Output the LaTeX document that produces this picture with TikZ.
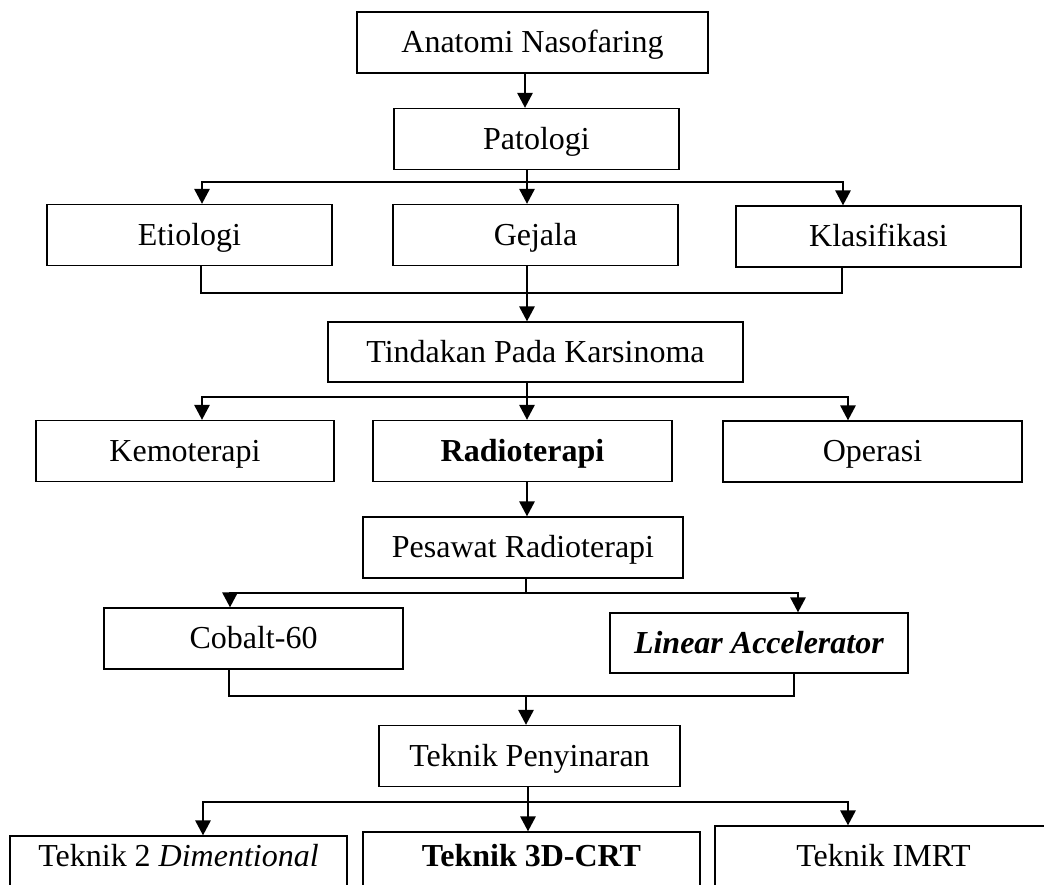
\documentclass[tikz,border=0pt]{standalone}
\usepackage{fontspec}
\setmainfont{Liberation Serif}
\usetikzlibrary{arrows.meta}

\begin{document}
\begin{tikzpicture}[x=0.5pt,y=-0.5pt,
  box/.style={draw,line width=0.6pt,minimum height=30.5pt,inner sep=2pt,text height=12pt,text depth=2pt,font=\fontsize{16}{19}\selectfont},
  openbox/.style={box,anchor=base,minimum height=0pt,inner ysep=0pt,text depth=40pt},
  link/.style={line width=1.4pt,line cap=rect},
  arr/.style={link,-{Triangle[width=7.5pt,length=7.5pt]}}]
\useasboundingbox (0,0) rectangle (1044,884);
\clip (0,0) rectangle (1044,884);

\node [box,minimum width=175.5pt] (anat) at (532.5,42.5) {Anatomi Nasofaring};
\node [box,minimum width=142.5pt] (pat) at (536.5,139) {Patologi};
\node [box,minimum width=142.5pt] (eti) at (189.5,235) {Etiologi};
\node [box,minimum width=142.5pt] (gej) at (535.5,235) {Gejala};
\node [box,minimum width=142.5pt] (kla) at (878.5,236.5) {Klasifikasi};
\node [box,minimum width=207.5pt,minimum height=30pt] (tin) at (535.5,352) {Tindakan Pada Karsinoma};
\node [box,minimum width=149pt] (kem) at (185,451) {Kemoterapi};
\node [box,minimum width=149.5pt] (rad) at (522.5,451) {\textbf{Radioterapi}};
\node [box,minimum width=149.5pt] (ope) at (872.5,451.5) {Operasi};
\node [box,minimum width=160pt] (pes) at (523,547.5) {Pesawat Radioterapi};
\node [box,minimum width=149.5pt] (cob) at (253.5,638.5) {Cobalt-60};
\node [box,minimum width=149pt,minimum height=30pt] (lin) at (759,643) {\textbf{\textit{Linear Accelerator}}};
\node [box,minimum width=150.5pt] (tek) at (529.5,756) {Teknik Penyinaran};
\node [openbox,minimum width=168.5pt,text height=15pt] (t2d) at (178.5,866) {Teknik 2 \textit{Dimentional}};
\node [openbox,minimum width=168.5pt,text height=17pt] (t3d) at (531.5,866) {\textbf{Teknik 3D-CRT}};
\node [openbox,minimum width=168.5pt,text height=20pt] (timrt) at (883.5,866) {Teknik IMRT};

\coordinate (a0) at (525,90);
\coordinate (s1l) at (202,182);
\coordinate (s1m) at (527,182);
\coordinate (s1r) at (843,182);
\coordinate (c1l) at (201,293);
\coordinate (c1m) at (527,293);
\coordinate (c1r) at (842,293);
\coordinate (s2l) at (202,397);
\coordinate (s2m) at (527,397);
\coordinate (s2r) at (848,397);
\coordinate (s3l) at (230,593);
\coordinate (s3m) at (526,593);
\coordinate (s3r) at (798,593);
\coordinate (c2l) at (229,696);
\coordinate (c2m) at (526,696);
\coordinate (c2r) at (794,696);
\coordinate (s4l) at (203,802);
\coordinate (s4m) at (528,802);
\coordinate (s4r) at (848,802);

\draw[arr] (anat.south -| a0) -- (pat.north -| a0);

\draw[link] (pat.south -| s1m) -- (s1m);
\draw[link] (s1l) -- (s1r);
\draw[arr] (s1l) -- (s1l |- eti.north);
\draw[arr] (s1m) -- (s1m |- gej.north);
\draw[arr] (s1r) -- (s1r |- kla.north);

\draw[link] (eti.south -| c1l) -- (c1l) -- (c1r) -- (kla.south -| c1r);
\draw[arr] (gej.south -| c1m) -- (tin.north -| c1m);

\draw[link] (tin.south -| s2m) -- (s2m);
\draw[link] (s2l) -- (s2r);
\draw[arr] (s2l) -- (s2l |- kem.north);
\draw[arr] (s2m) -- (s2m |- rad.north);
\draw[arr] (s2r) -- (s2r |- ope.north);

\draw[arr] (rad.south -| s2m) -- (pes.north -| s2m);

\draw[link] (pes.south -| s3m) -- (s3m);
\draw[link] (s3l) -- (s3r);
\draw[arr] (s3l) -- (s3l |- cob.north);
\draw[arr] (s3r) -- (s3r |- lin.north);

\draw[link] (cob.south -| c2l) -- (c2l) -- (c2r) -- (lin.south -| c2r);
\draw[arr] (c2m) -- (tek.north -| c2m);

\draw[link] (tek.south -| s4m) -- (s4m);
\draw[link] (s4l) -- (s4r);
\draw[arr] (s4l) -- (s4l |- t2d.north);
\draw[arr] (s4m) -- (s4m |- t3d.north);
\draw[arr] (s4r) -- (s4r |- timrt.north);
\end{tikzpicture}
\end{document}
